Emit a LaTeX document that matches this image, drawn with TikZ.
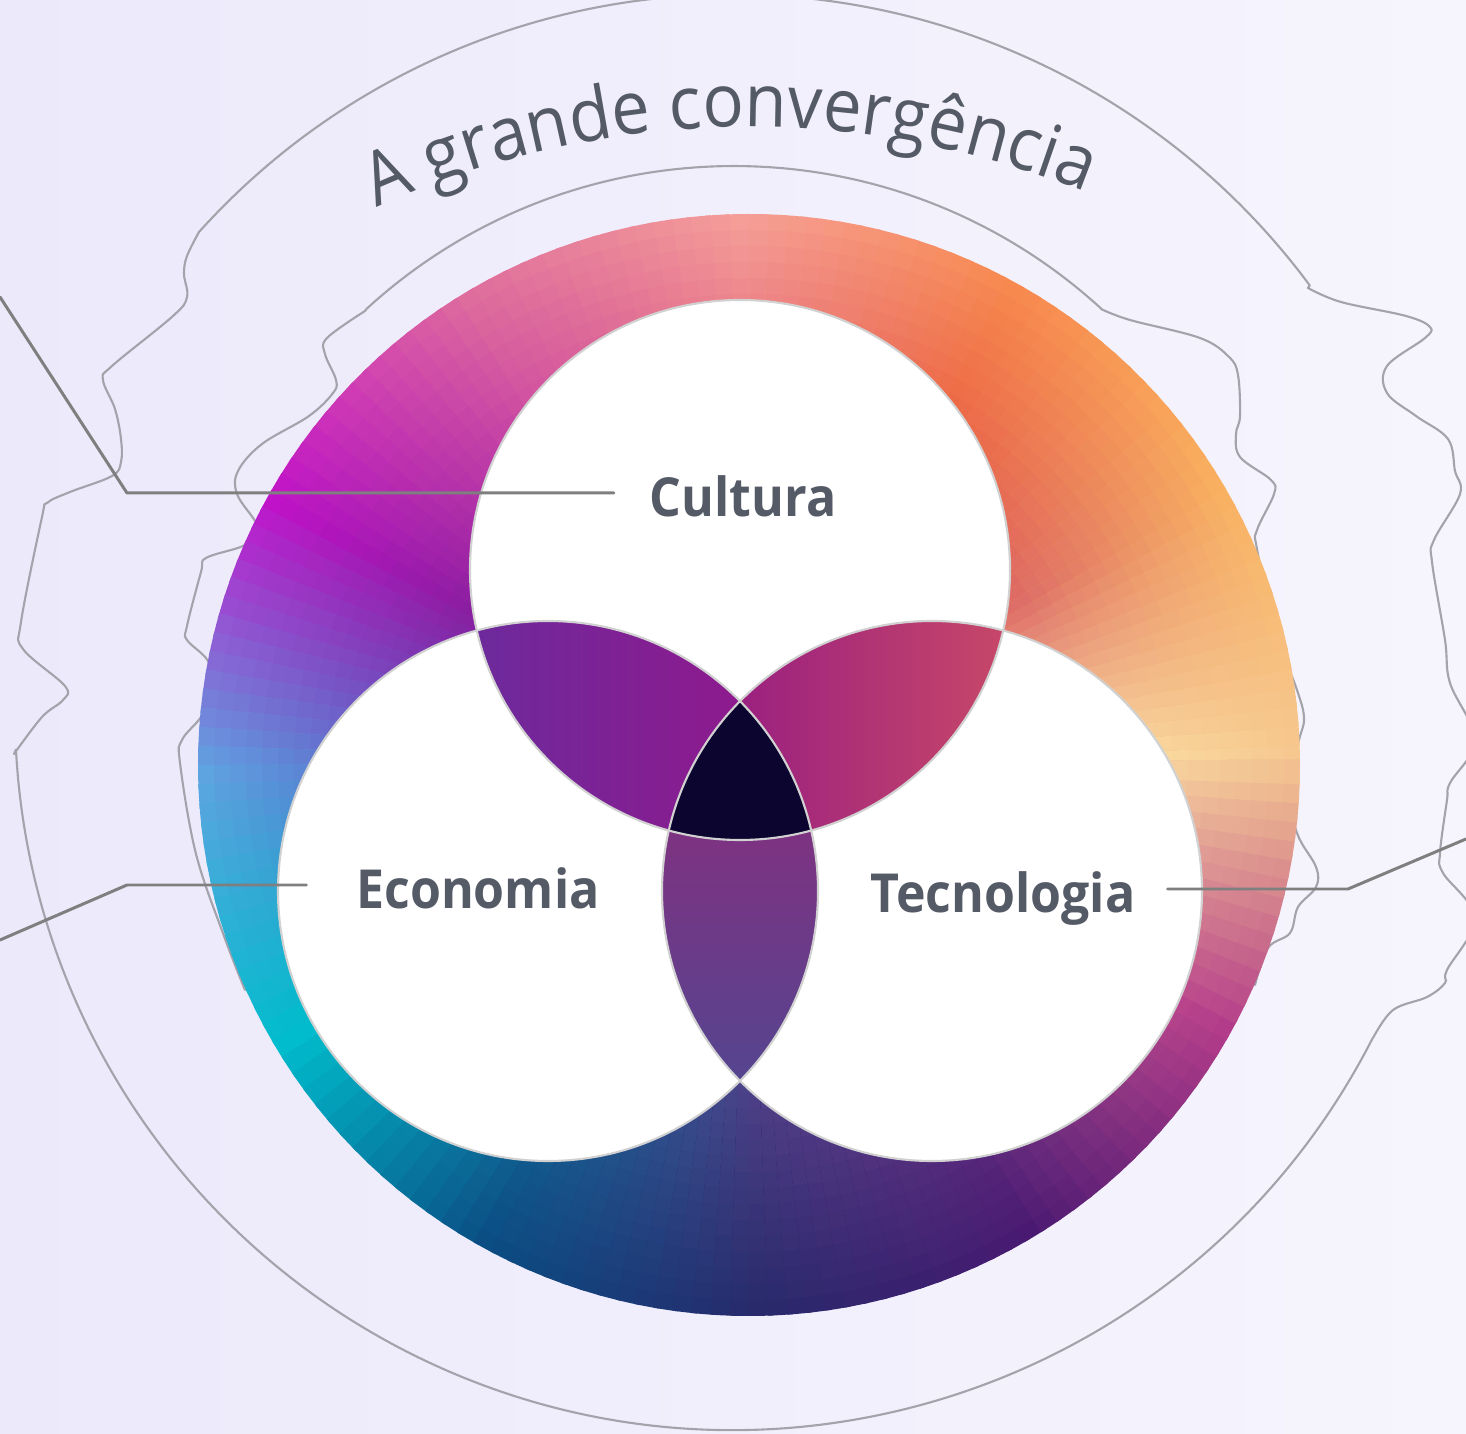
\documentclass[tikz,border=0pt]{standalone}
\usepackage{fontspec}
\usepackage{tikz}
\usetikzlibrary{positioning}
\usetikzlibrary{decorations.text}
\newfontfamily\vennfont[FakeStretch=0.93]{Open Sans}
\definecolor{bg-left}{HTML}{ECE9FB}
\definecolor{bg-right}{HTML}{F6F5FD}
\definecolor{contour-gray}{HTML}{A3A3AB}
\definecolor{leader-gray}{HTML}{7F7F7F}
\definecolor{txt-gray}{HTML}{555A67}
\definecolor{core}{HTML}{0C0530}
% ring colours at the outer edge, one every 30 degrees (counter-clockwise from the right)
\definecolor{out0}{HTML}{F6C890}
\definecolor{out1}{HTML}{F8B060}
\definecolor{out2}{HTML}{F7884E}
\definecolor{out3}{HTML}{F59E98}
\definecolor{out4}{HTML}{DE6C9C}
\definecolor{out5}{HTML}{C012C8}
\definecolor{out6}{HTML}{5EA4E0}
\definecolor{out7}{HTML}{00BCCC}
\definecolor{out8}{HTML}{0A4E84}
\definecolor{out9}{HTML}{282A6C}
\definecolor{out10}{HTML}{4A1A72}
\definecolor{out11}{HTML}{B23C8A}
% ring colours towards the middle
\definecolor{in0}{HTML}{FBE4A8}
\definecolor{in1}{HTML}{DE6E68}
\definecolor{in2}{HTML}{E55442}
\definecolor{in3}{HTML}{E05E78}
\definecolor{in4}{HTML}{C43AA6}
\definecolor{in5}{HTML}{8A1EA0}
\definecolor{in6}{HTML}{5A5CC6}
\definecolor{in7}{HTML}{00BCCA}
\definecolor{in8}{HTML}{1A6898}
\definecolor{in9}{HTML}{4E4088}
\definecolor{in10}{HTML}{6A3A88}
\definecolor{in11}{HTML}{D06090}
% lenses
\definecolor{lens-tl-a}{HTML}{6C2A9C}
\definecolor{lens-tl-b}{HTML}{8E1A8E}
\definecolor{lens-tr-a}{HTML}{9A2080}
\definecolor{lens-tr-b}{HTML}{C84868}
\definecolor{lens-b-a}{HTML}{82307F}
\definecolor{lens-b-b}{HTML}{554590}
\tikzset{
  contour/.style={draw=contour-gray, line width=0.6pt},
  leader/.style={draw=leader-gray, line width=0.85pt},
  rim/.style={draw=white!82!black, line width=0.6pt},
  venn label/.style={font=\vennfont\bfseries\fontsize{15.3}{18}\selectfont, text=txt-gray,
    text height=13.6pt, text depth=0pt, inner xsep=10pt, inner ysep=0pt},
}

\begin{document}
\begin{tikzpicture}[x=0.01cm, y=-0.01cm, line cap=round, line join=round]
    % frame
    \useasboundingbox (0,0) rectangle (1466,1434);
    \shade[left color=bg-left, right color=bg-right] (0,0) rectangle (1466,1434);

    % centres
    \coordinate (deco-c) at (733,712);
    \coordinate (inner-c) at (734,710);
    \coordinate (ring-c) at (749,765);
    \coordinate (title-c) at (749,1026);
    \coordinate (cul-c) at (740,570);
    \coordinate (eco-c) at (548,891);
    \coordinate (tec-c) at (932,891);

    % outer contour
    \draw[contour] ([shift={(deco-c)}]27:718) arc[start angle=27, end angle=177, radius=718]
      -- plot[smooth, tension=0.6] coordinates {(14,754) (42,717) (63,700) (65,686) (23,649) (21,622)
         (42,517) (47,503) (70,492) (112,476) (121,462) (121,439) (115,409) (103,380) (112,366)
         (173,316) (187,297) (184,274) (187,256) (199,232)}
      arc[start angle=222, end angle=323.5, radius=718]
      -- plot[smooth, tension=0.6] coordinates {(1308,288) (1341,302) (1406,316) (1430,327) (1425,338)
         (1387,366) (1387,393) (1416,416) (1448,439) (1455,471) (1460,494) (1434,540) (1432,562)
         (1445,640) (1450,683) (1475,740) (1450,783) (1447,800) (1440,853) (1443,873) (1475,918)
         (1447,970) (1445,983) (1427,997) (1393,1010) (1373,1038)};

    % inner contour
    \draw[contour] plot[smooth, tension=0.6] coordinates {(245,990) (224,936) (196,854) (180,763)
         (182,740) (201,717) (215,690) (208,661) (187,640) (187,626) (201,572) (206,558) (243,546)
         (258,533) (255,521) (237,494) (238,471) (262,444) (309,416) (333,393) (336,380) (325,354)
         (327,338) (365,311)}
      -- ([shift={(inner-c)}]227.5:544) arc[start angle=227.5, end angle=312.5, radius=544]
      -- plot[smooth, tension=0.6] coordinates {(1101,309) (1130,320) (1200,338) (1229,357) (1238,375)
         (1240,416) (1236,434) (1240,457) (1271,480) (1274,494) (1257,530) (1257,549) (1275,630)
         (1297,690) (1304,718) (1299,740) (1288,785) (1297,833) (1316,867) (1316,887) (1298,907)
         (1290,933) (1268,948) (1255,985)};

    % colour ring
    \foreach \a in {0,2,...,358}{
      \pgfmathtruncatemacro{\kA}{\a/30}
      \pgfmathtruncatemacro{\kB}{mod(\kA+1,12)}
      \pgfmathtruncatemacro{\mix}{100-(\a-30*\kA)*10/3}
      \colorlet{outcol}{out\kA!\mix!out\kB}
      \colorlet{incol}{in\kA!\mix!in\kB}
      \foreach \k in {0,...,14}{
        \pgfmathsetmacro{\r}{551-16*\k}
        \pgfmathtruncatemacro{\s}{100-\k*100/14}
        \fill[fill=outcol!\s!incol] (ring-c) -- ([shift={(ring-c)}]-\a:\r)
          arc[start angle=-\a, end angle=-\a-2.6, radius=\r] -- cycle;
      }
    }

    % white circles
    \fill[white] (cul-c) circle (270);
    \fill[white] (eco-c) circle (270);
    \fill[white] (tec-c) circle (270);

    % cultura and economia
    \begin{scope}
      \clip (cul-c) circle (270);
      \clip (eco-c) circle (270);
      \shade[left color=lens-tl-a, right color=lens-tl-b] (470,620) rectangle (745,835);
    \end{scope}

    % cultura and tecnologia
    \begin{scope}
      \clip (cul-c) circle (270);
      \clip (tec-c) circle (270);
      \shade[left color=lens-tr-a, right color=lens-tr-b] (735,620) rectangle (1010,835);
    \end{scope}

    % economia and tecnologia
    \begin{scope}
      \clip (eco-c) circle (270);
      \clip (tec-c) circle (270);
      \shade[top color=lens-b-a, bottom color=lens-b-b] (655,800) rectangle (825,1085);
    \end{scope}

    % all three
    \begin{scope}
      \clip (cul-c) circle (270);
      \clip (eco-c) circle (270);
      \clip (tec-c) circle (270);
      \fill[core] (600,650) rectangle (880,880);
    \end{scope}

    % rims
    \draw[rim] (cul-c) circle (270);
    \draw[rim] (eco-c) circle (270);
    \draw[rim] (tec-c) circle (270);

    % labels
    \node[venn label] (cultura) at (743,493) {Cultura};
    \node[venn label, inner xsep=14pt] (economia) at (478,885) {Economia};
    \node[venn label, inner xsep=9pt] (tecnologia) at (1003,889) {Tecnologia};

    % leaders
    \coordinate (cul-knee) at (127,493);
    \coordinate (cul-end) at (0,297);
    \coordinate (eco-knee) at (127,885);
    \coordinate (eco-end) at (0,940);
    \coordinate (tec-knee) at (1348,889);
    \coordinate (tec-end) at (1466,839);
    \draw[leader] (cultura.west) -- (cul-knee) -- (cul-end);
    \draw[leader] (economia.west) -- (eco-knee) -- (eco-end);
    \draw[leader] (tecnologia.east) -- (tec-knee) -- (tec-end);

    % title
    \path[decorate, decoration={text along path, text align=center,
        text={|\vennfont\fontsize{21}{25}\selectfont\color{txt-gray}|A grande convergência}}]
      ([shift={(title-c)}]-118:899) arc[start angle=-118, end angle=-64.5, radius=899];

\end{tikzpicture}
\end{document}
